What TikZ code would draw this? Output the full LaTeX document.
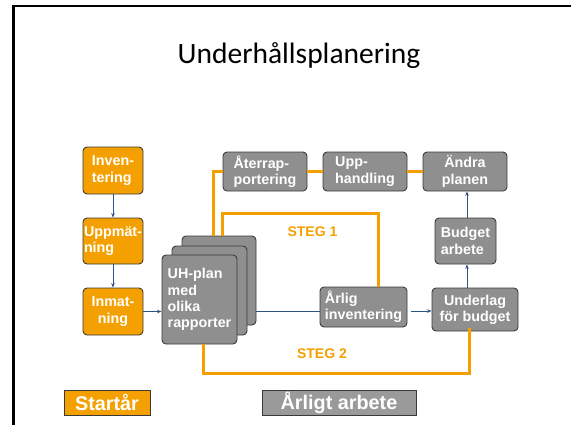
\documentclass[tikz,border=0pt]{standalone}
\usepackage{fontspec}
\setmainfont{Liberation Sans}
\newfontfamily\titlefont{Carlito}
\usetikzlibrary{arrows.meta}
\definecolor{org}{HTML}{F4A000}
\definecolor{gbox}{HTML}{8F8F8F}
\definecolor{bord}{HTML}{3A3A3A}
\definecolor{arr}{HTML}{2E5283}
\begin{document}
\begin{tikzpicture}[x=1pt,y=-1pt,
 box/.style={draw=bord, line width=0.9pt, rounded corners=4pt, text=white,
   font=\bfseries\fontsize{14.3}{16.3}\selectfont, inner sep=0.5pt},
 obox/.style={box, fill=org},
 gb/.style={box, fill=gbox},
 arw/.style={draw=arr, line width=0.8pt, -{Stealth[length=4.5pt,width=3.5pt]}},
 oline/.style={draw=org, line width=3pt},
 leg/.style={draw=bord, line width=0.9pt, text=white,
   font=\bfseries\fontsize{19.8}{21}\selectfont, inner sep=0pt, minimum height=25pt},
 steg/.style={text=org, font=\bfseries\fontsize{14}{16}\selectfont},
]
\useasboundingbox (0,0) rectangle (571,424);
\draw[line width=2.3pt] (13.5,430) -- (13.5,6.2) -- (580,6.2);

\node[anchor=base, font=\titlefont\fontsize{29.5}{32}\selectfont] (title) at (299,63) {Underhållsplanering};

% left column
\node[obox, minimum width=60pt, minimum height=47pt, align=left] (inv) at (113,170.5) {Inven-\\tering};
\node[obox, minimum width=60pt, minimum height=46pt, align=left] (upp) at (113,241) {Uppmät-\\ning};
\node[obox, minimum width=60pt, minimum height=47pt, align=center] (inm) at (113,311.5) {Inmat-\\ning};

% stack
\node[gb, minimum width=74pt, minimum height=89pt] (back) at (219,280.5) {};
\node[gb, minimum width=75pt, minimum height=89pt] (mid) at (209.5,290.5) {};
\node[gb, minimum width=75pt, minimum height=89pt, align=left] (front) at (199.5,299.5)
  {UH-plan\\med\\olika\\rapporter};

% right part
\node[gb, minimum width=87pt, minimum height=40pt, align=left] (arl) at (363.5,307) {Årlig\\ inventering};
\node[gb, minimum width=86pt, minimum height=43pt, align=center] (und) at (475,309.5) {Underlag\\för budget};
\node[gb, minimum width=61pt, minimum height=46pt, align=left] (bud) at (465.5,241) {Budget\\arbete};
\node[gb, minimum width=84pt, minimum height=39pt, align=center] (and) at (465,171.5) {Ändra\\planen};
\node[gb, minimum width=84pt, minimum height=39pt, align=left] (ate) at (265,171.5) {Återrap-\\portering};
\node[gb, minimum width=84pt, minimum height=39pt, align=left] (uph) at (365,171.5) {Upp-\\handling};

% arrows
\draw[arw] (inv.south) -- (upp.north);
\draw[arw] (upp.south) -- (inm.north);
\draw[arw] (inm.east) -- (front.west |- inm.east);
\draw[draw=arr, line width=0.8pt] (back.east |- 0,311) -- (arl.west |- 0,311);
\draw[arw] ([xshift=4pt]arl.east |- 0,311) -- (und.west |- 0,311);
\draw[arw] (und.north -| 467,0) -- (bud.south -| 467,0);
\draw[arw] (bud.north -| 467,0) -- (and.south -| 467,0);

% orange lines
\draw[oline] (ate.east) -- (uph.west);
\draw[oline] (uph.east) -- (and.west);
\draw[oline] (ate.west) -| (back.north -| 213,0);
\draw[oline] (back.north -| 222.5,0) |- (378,213) -- (arl.north -| 378,0);
\draw[oline] (front.south -| 203,0) |- (469,373) -- ([yshift=3pt]und.south -| 469,0);

\node[steg] (s1) at (312.5,232) {STEG 1};
\node[steg] (s2) at (322,354) {STEG 2};

% legend
\node[leg, fill=org, minimum width=86pt] (l1) at (107,402.5) {Startår};
\node[leg, fill=gbox!90!white, minimum width=154pt] (l2) at (339,402.5) {Årligt arbete};
\end{tikzpicture}
\end{document}
